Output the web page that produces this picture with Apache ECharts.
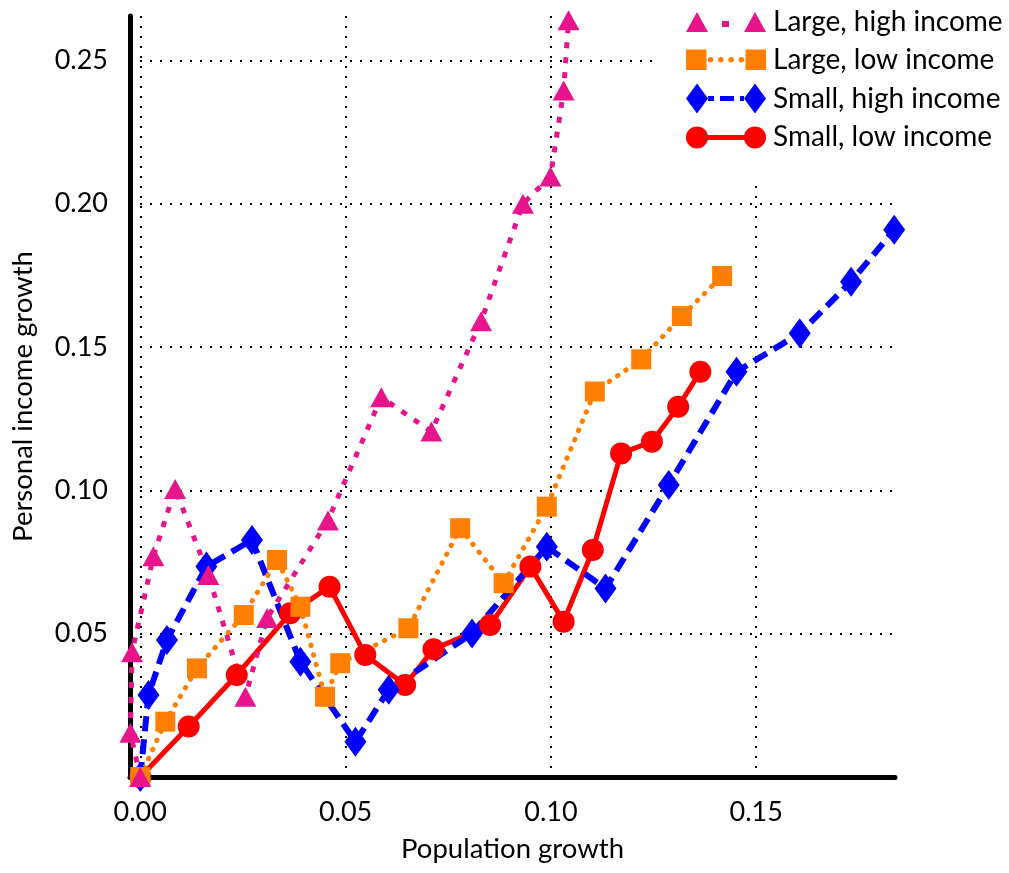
<!DOCTYPE html>
<html>
<head>
<meta charset="utf-8">
<title>Income growth vs population growth</title>
<script src="https://cdn.jsdelivr.net/npm/echarts@6/dist/echarts.min.js"></script>
<style>
  html, body { margin: 0; padding: 0; background: #fff; }
  #chart { width: 1009px; height: 873px; }
</style>
</head>
<body>
<div id="chart"></div>
<script>
  /** Data: [population growth, personal income growth] */
  var largeHigh = [
    [0, 0], [-0.0024, 0.0154], [-0.002, 0.0435], [0.0032, 0.077], [0.0085, 0.1005],
    [0.0166, 0.0705], [0.0256, 0.028], [0.0309, 0.0555], [0.0457, 0.0895], [0.0587, 0.1325],
    [0.0709, 0.1205], [0.083, 0.159], [0.0932, 0.2], [0.0999, 0.2095], [0.1031, 0.2395],
    [0.1043, 0.264]
  ];
  var largeLow = [
    [0, 0], [0.0061, 0.0193], [0.0138, 0.0379], [0.0252, 0.0565], [0.0333, 0.0757],
    [0.039, 0.0594], [0.045, 0.028], [0.0487, 0.0397], [0.0653, 0.0519], [0.0779, 0.0868],
    [0.0885, 0.0676], [0.099, 0.0943], [0.1107, 0.1345], [0.122, 0.1457], [0.1319, 0.1608],
    [0.1417, 0.1748]
  ];
  var smallHigh = [
    [0, 0], [0.002, 0.0286], [0.0065, 0.0478], [0.0161, 0.0734], [0.0272, 0.0827],
    [0.039, 0.0402], [0.0524, 0.0123], [0.0605, 0.0304], [0.0808, 0.0501], [0.099, 0.0803],
    [0.1133, 0.0658], [0.1287, 0.1019], [0.1452, 0.1414], [0.1606, 0.1548], [0.1731, 0.1728],
    [0.1836, 0.1909]
  ];
  var smallLow = [
    [0, 0], [0.0118, 0.0176], [0.0235, 0.0356], [0.0365, 0.0571], [0.0461, 0.0664],
    [0.0548, 0.0426], [0.0645, 0.0321], [0.0714, 0.0446], [0.0852, 0.053], [0.095, 0.0734],
    [0.1031, 0.0542], [0.1102, 0.0792], [0.1171, 0.1129], [0.1246, 0.117], [0.131, 0.1292],
    [0.1364, 0.1414]
  ];
  var seriesNames = ['Large, high income', 'Large, low income', 'Small, high income', 'Small, low income'];

  var FONT = 'Lato';

  /** circle helper for legend icon paths */
  function dot(cx, cy, r) {
    return 'M' + (cx - r) + ',' + cy + 'A' + r + ',' + r + ' 0 1 1 ' + (cx + r) + ',' + cy +
           'A' + r + ',' + r + ' 0 1 1 ' + (cx - r) + ',' + cy + 'Z';
  }

  // legend icons: marker - line - marker
  var icons = [
    'path://M0,20L11,0L22,20ZM36,9H43V15H36ZM58,20L69,0L80,20Z',
    'path://M0,0H20V20H0ZM58,0H78V20H58Z' + dot(24, 10, 2.7) + dot(34, 10, 2.7) + dot(44, 10, 2.7) + dot(54, 10, 2.7),
    'path://M11,0L22,15L11,30L0,15ZM69,0L80,15L69,30L58,15ZM22,12.5H28V17.5H22ZM34,12.5H48V17.5H34ZM54,12.5H58V17.5H54Z',
    'path://' + dot(11, 11, 11) + 'M21,8.5H59V13.5H21Z' + dot(69, 11, 11)
  ];

  var gridLine = { color: '#000', width: 2, type: [2, 8] };

  var option = {
    animation: false,
    backgroundColor: '#fff',
    grid: { left: 130, right: 114, top: 16, bottom: 96, containLabel: false },
    legend: {
      orient: 'vertical',
      left: 655,
      top: 0,
      padding: [8, 6, 29, 31],
      backgroundColor: '#fff',
      itemWidth: 80,
      itemHeight: 30,
      itemGap: 9.8,
      symbolKeepAspect: true,
      itemStyle: { borderWidth: 0 },
      textStyle: { fontFamily: FONT, fontSize: 28, color: '#000', padding: [0, 0, 0, 2] },
      data: seriesNames.map(function(n, i) { return { name: n, icon: icons[i] }; })
    },
    xAxis: {
      type: 'value',
      min: -0.0025,
      max: 0.1838,
      splitNumber: 4,
      name: 'Population growth',
      nameLocation: 'middle',
      nameGap: 58,
      nameTextStyle: { fontFamily: FONT, fontSize: 27.5, color: '#000' },
      axisLine: { show: true, onZero: false, lineStyle: { color: '#000', width: 5 } },
      axisTick: { show: false },
      axisLabel: {
        fontFamily: FONT, fontSize: 27, color: '#000', margin: 22,
        showMinLabel: false, showMaxLabel: false,
        formatter: function(v) { return v.toFixed(2); }
      },
      splitLine: { show: true, showMinLine: false, showMaxLine: false, lineStyle: gridLine }
    },
    yAxis: {
      type: 'value',
      min: 0,
      max: 0.2655,
      splitNumber: 5,
      name: 'Personal income growth',
      nameLocation: 'middle',
      nameGap: 93,
      nameTextStyle: { fontFamily: FONT, fontSize: 27.5, color: '#000' },
      axisLine: { show: true, onZero: false, lineStyle: { color: '#000', width: 5 } },
      axisTick: { show: false },
      axisLabel: {
        fontFamily: FONT, fontSize: 27, color: '#000', margin: 22,
        showMinLabel: false, showMaxLabel: false,
        formatter: function(v) { return v.toFixed(2); }
      },
      splitLine: { show: true, showMinLine: false, showMaxLine: false, lineStyle: gridLine }
    },
    // drawn back to front: red, blue, orange, pink
    series: [
      {
        name: seriesNames[3], type: 'line', data: smallLow,
        symbol: 'circle', symbolSize: 22, showAllSymbol: true,
        itemStyle: { color: '#ff0000' },
        lineStyle: { color: '#ff0000', width: 5 }
      },
      {
        name: seriesNames[2], type: 'line', data: smallHigh,
        symbol: 'diamond', symbolSize: [22, 30], showAllSymbol: true,
        itemStyle: { color: '#0000ff' },
        lineStyle: { color: '#0000ff', width: 6, type: [15, 8] }
      },
      {
        name: seriesNames[1], type: 'line', data: largeLow,
        symbol: 'rect', symbolSize: 20, showAllSymbol: true,
        itemStyle: { color: '#ff8000' },
        lineStyle: { color: '#ff8000', width: 5, type: [0.5, 9.5], cap: 'round' }
      },
      {
        name: seriesNames[0], type: 'line', data: largeHigh,
        symbol: 'triangle', symbolSize: [22, 20], showAllSymbol: true,
        itemStyle: { color: '#e8148c' },
        lineStyle: { color: '#e8148c', width: 5, type: [6, 9] }
      }
    ]
  };

  echarts.init(document.getElementById('chart')).setOption(option);
</script>
</body>
</html>
